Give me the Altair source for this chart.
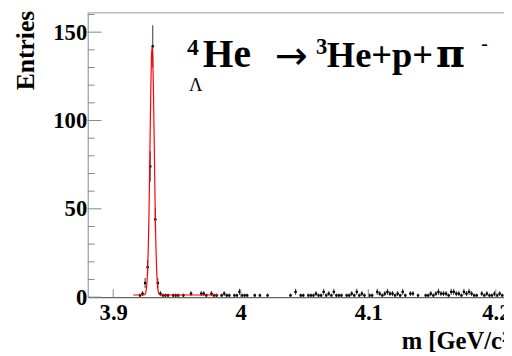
import altair as alt
import pandas as pd
import numpy as np

# ---------------- data ----------------
bin_start = 3.881          # centre of first bin [GeV/c^2]
bin_width = 0.002
counts = [
    0, 0, 0, 0, 0, 0, 0, 0, 0, 0, 0, 0, 0, 0, 0, 0, 0, 0, 0, 0,
    1, 2, 8, 17, 74, 142, 44, 8, 2, 1,
    1, 1, 0, 1, 1, 1, 0, 1, 0, 0,
    2, 0, 0, 0, 2, 2, 1, 0, 2, 1,
    1, 0, 1, 2, 1, 1, 0, 1, 1, 3,
    1, 1, 1, 0, 0, 1, 0, 1, 0, 0,
    1, 0, 0, 0, 0, 0, 0, 0, 0, 1,
    0, 3, 0, 1, 1, 0, 1, 1, 1, 2,
    1, 1, 3, 1, 2, 1, 3, 1, 1, 1,
    0, 1, 1, 2, 1, 3, 1, 2, 1, 0,
    1, 1, 0, 3, 2, 1, 2, 3, 2, 2,
    1, 2, 1, 3, 1, 0, 2, 2, 0, 1,
    0, 0, 1, 1, 2, 1, 2, 3, 2, 2,
    2, 1, 3, 3, 2, 2, 1, 3, 2, 3,
    2, 1, 1, 0, 2, 1, 2, 1, 1, 2,
    1, 2, 1,
]
fit_m = [3.9157, 3.9200, 3.9220, 3.9240, 3.9250, 3.9255, 3.9260, 3.9265, 3.9270,
         3.9275, 3.9280, 3.9285, 3.9290, 3.9295, 3.9300, 3.9305, 3.9310, 3.9315,
         3.9320, 3.9325, 3.9330, 3.9335, 3.9340, 3.9345, 3.9350, 3.9355, 3.9360,
         3.9370, 3.9390, 3.9500, 3.9826]
fit_n = [1.2, 1.2, 1.2, 1.26, 1.74, 2.63, 4.63, 8.67, 16.1,
         28.2, 45.9, 68.8, 94.5, 118.5, 135.9, 141.5, 135.9, 118.5,
         94.5, 68.8, 45.9, 28.2, 16.1, 8.67, 4.63, 2.63, 1.74,
         1.26, 1.2, 1.2, 1.2]
x_ticks = [3.9, 4.0, 4.1, 4.2]
y_major = [0, 50, 100, 150]
y_minor = [10, 20, 30, 40, 60, 70, 80, 90, 110, 120, 130, 140, 160]

# ---------------- tables ----------------
centers = bin_start + bin_width * np.arange(len(counts))
df = pd.DataFrame({"m": centers, "n": counts})
df = df[df.n > 0].copy()
df["lo"] = df.n - np.sqrt(df.n)
df["hi"] = df.n + np.sqrt(df.n)
df["xl"] = df.m - bin_width / 2
df["xr"] = df.m + bin_width / 2
fit = pd.DataFrame({"m": fit_m, "n": fit_n})

W, H = 423, 289
FONT = "Liberation Serif"
xs = alt.Scale(domain=[3.88, 4.2064], nice=False, zero=False)
ys = alt.Scale(domain=[0, 161], nice=False)

x_axis = alt.Axis(values=x_ticks, format=".1~f", title=None, ticks=False, tickSize=0,
                  labelFont=FONT, labelFontWeight="bold", labelFontSize=23,
                  labelColor="black", labelBaseline="alphabetic", labelPadding=23,
                  labelFlush=False, labelOverlap=False, domainColor="#666666",
                  domainWidth=1.2, grid=False)
y_axis = alt.Axis(values=y_major, title=None, ticks=False, tickSize=0,
                  labelFont=FONT, labelFontWeight="bold", labelFontSize=23,
                  labelColor="black", labelPadding=1, labelOverlap=False,
                  labelFlush=False, domainColor="#888888", grid=False)


def X(f):
    return alt.X(f, scale=xs, axis=x_axis)


def Y(f):
    return alt.Y(f, scale=ys, axis=y_axis)


base = alt.Chart(df)
vbar = base.mark_rule(color="#333333", strokeWidth=1).encode(
    x=X("m:Q"), y=Y("lo:Q"), y2="hi:Q")
hbar = base.mark_rule(color="#333333", strokeWidth=1).encode(
    x=X("xl:Q"), x2="xr:Q", y=Y("n:Q"))
pts = base.mark_square(size=5, color="black", opacity=1).encode(
    x=X("m:Q"), y=Y("n:Q"))
fitline = alt.Chart(fit).mark_line(color="#ff0000", strokeWidth=1.2,
                                   interpolate="monotone").encode(
    x=X("m:Q"), y=Y("n:Q"))

ymaj = alt.Chart(pd.DataFrame({"v": y_major})).mark_rule(color="#888888").encode(
    y=Y("v:Q"), x=alt.value(0), x2=alt.value(14))
ymin = alt.Chart(pd.DataFrame({"v": y_minor})).mark_rule(color="#888888").encode(
    y=Y("v:Q"), x=alt.value(0), x2=alt.value(7))
xmaj = alt.Chart(pd.DataFrame({"v": x_ticks})).mark_rule(color="#888888").encode(
    x=X("v:Q"), y=alt.value(H), y2=alt.value(H - 8))
topline = alt.Chart(pd.DataFrame({"a": [0]})).mark_rule(color="#bbbbbb", strokeWidth=1.5).encode(
    x=alt.value(0), x2=alt.value(W), y=alt.value(0))


def txt(s, x, y, size, weight="bold", angle=0, align="left", font=FONT):
    kw = dict(text=s, font=font, fontSize=size, fontWeight=weight,
              align=align, baseline="alphabetic", color="black")
    if angle:
        kw["angle"] = angle
    return alt.Chart(pd.DataFrame({"t": [s]})).mark_text(**kw).encode(
        x=alt.value(x), y=alt.value(y))


labels = [
    txt("Entries", -55, -2, 26, angle=270, align="right"),
    txt("m [GeV/c²]", 319, 342, 25),
    txt("4", 101, 43, 24),
    txt("Λ", 103, 80, 19, weight="normal"),
    txt("He", 117, 55, 40),
    txt("→", 190, 57, 40, weight="normal", font="DejaVu Sans"),
    txt("3", 232, 42, 23),
    txt("He+p+", 243, 55, 37),
    txt("π", 354, 55, 40, weight="bold", font="DejaVu Serif"),
    txt("-", 400, 38, 20),
]

chart = alt.layer(vbar, hbar, pts, fitline, ymaj, ymin, xmaj, topline, *labels).properties(
    width=W, height=H,
    autosize=alt.AutoSizeParams(type="none"),
    padding={"left": 81, "top": 2, "right": 0, "bottom": 58},
).configure_view(stroke=None).configure_axis(grid=False)

chart.save("out.html", embed_options={"renderer": "svg", "actions": False})
